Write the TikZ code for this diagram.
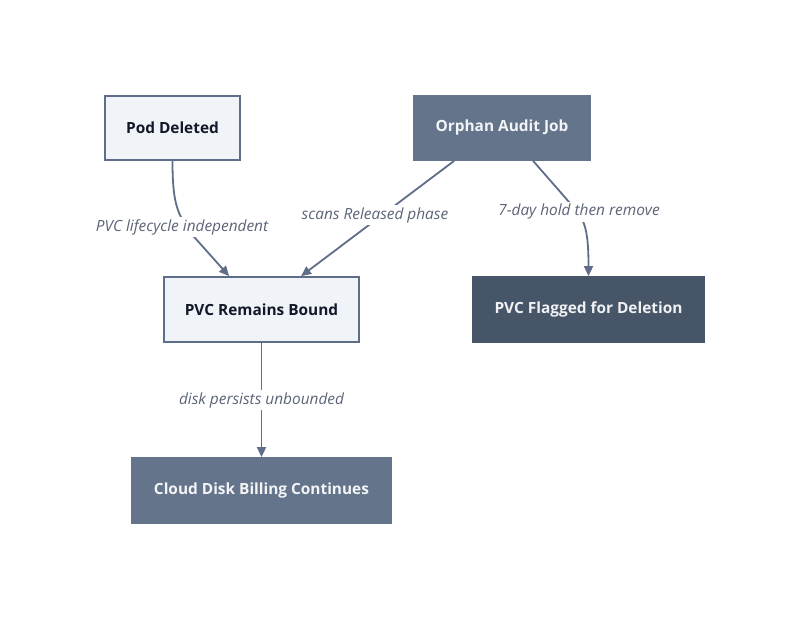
\documentclass[tikz,border=0pt]{standalone}
\usepackage{fontspec}
\setmainfont{Open Sans}
\usetikzlibrary{arrows.meta,calc}
\definecolor{edgec}{HTML}{5F6E88}
\definecolor{lightfill}{HTML}{F0F3F8}
\definecolor{midfill}{HTML}{64748B}
\definecolor{darkfill}{HTML}{475569}
\definecolor{labc}{HTML}{5B6477}
\definecolor{darktext}{HTML}{111827}
\begin{document}
\begin{tikzpicture}[x=1pt,y=-1pt,
  box/.style={rectangle, inner sep=0pt, line width=1.8pt, font=\fontsize{15.4}{18}\selectfont\bfseries},
  lightbox/.style={box, draw=edgec, fill=lightfill, text=darktext},
  midbox/.style={box, draw=midfill, fill=midfill, text=white!92!midfill},
  darkbox/.style={box, draw=darkfill, fill=darkfill, text=white!92!darkfill},
  conn/.style={draw=edgec, line width=1.8pt, -{Triangle[length=10pt,width=9pt]}},
  lab/.style={fill=white, text=labc, inner sep=2pt, font=\fontsize{15.4}{17}\selectfont\itshape}]
\useasboundingbox (0,0) rectangle (800,620);
\fill[white] (0,0) rectangle (800,620);

\node[lightbox, minimum width=135pt, minimum height=64pt] (pod) at (172.5,128) {Pod Deleted};
\node[midbox, minimum width=176pt, minimum height=64pt] (audit) at (502,128) {Orphan Audit Job};
\node[lightbox, minimum width=195pt, minimum height=65pt] (pvc) at (261.5,309.5) {PVC Remains Bound};
\node[darkbox, minimum width=231pt, minimum height=65pt] (flag) at (588.5,309.5) {PVC Flagged for Deletion};
\node[midbox, minimum width=259pt, minimum height=65pt] (bill) at (261.5,490.5) {Cloud Disk Billing Continues};

\draw[conn] (pod.south) .. controls ($(pod.south)+(0,40)$) and ($(pod.south)+(4,52)$) .. ($(pod.south)+(18,72)$) -- ($(pvc.north west)+(66,0)$);
\draw[conn] ($(audit.south west)+(41,0)$) -- ($(pvc.north west)+(138,0)$);
\draw[conn] ($(audit.south west)+(120,0)$) -- ($(audit.south west)+(148,32)$) .. controls ($(audit.south west)+(168,56)$) and ($(flag.north)+(0,-60)$) .. (flag.north);
\draw[conn] (pvc.south) -- (bill.north);

\node[lab] (l1) at (182,227) {PVC lifecycle independent};
\node[lab] (l2) at (375,215) {scans Released phase};
\node[lab] (l3) at (579,212) {7-day hold then remove};
\node[lab] (l4) at (261.5,400) {disk persists unbounded};
\end{tikzpicture}
\end{document}
